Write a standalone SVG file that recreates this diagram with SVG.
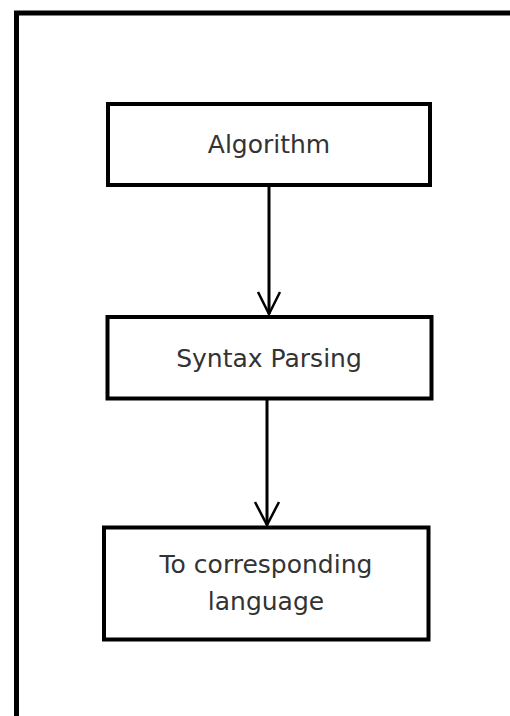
<svg xmlns="http://www.w3.org/2000/svg" width="510" height="716" viewBox="0 0 510 716">
<style>
.box{fill:#fff;stroke:#000;stroke-width:4}
.lbl{font-family:"DejaVu Sans",Verdana,sans-serif;font-size:25px;fill:#333;text-anchor:middle}
.edge{stroke:#000;stroke-width:3;fill:none}
.head{stroke:#000;stroke-width:2.5;fill:none}
</style>
<rect x="0" y="0" width="510" height="716" fill="#fff"/>
<rect x="16.5" y="13" width="510" height="720" fill="none" stroke="#000" stroke-width="5"/>
<g id="n1">
<rect class="box" x="108" y="104" width="322" height="81"/>
<text class="lbl" x="269" y="153">Algorithm</text>
</g>
<g id="n2">
<rect class="box" x="107.5" y="317" width="324" height="81.5"/>
<text class="lbl" x="269" y="367">Syntax Parsing</text>
</g>
<g id="n3">
<rect class="box" x="104" y="527.5" width="324.5" height="112"/>
<text class="lbl" x="266" y="573">To corresponding</text>
<text class="lbl" x="266" y="610">language</text>
</g>
<g id="connectors">
<line class="edge" x1="269" y1="185" x2="269" y2="314"/>
<polyline class="head" points="258,292 269,314 280,292"/>
<line class="edge" x1="267" y1="399" x2="267" y2="525"/>
<polyline class="head" points="255,502 267,525 279,502"/>
</g>
</svg>
